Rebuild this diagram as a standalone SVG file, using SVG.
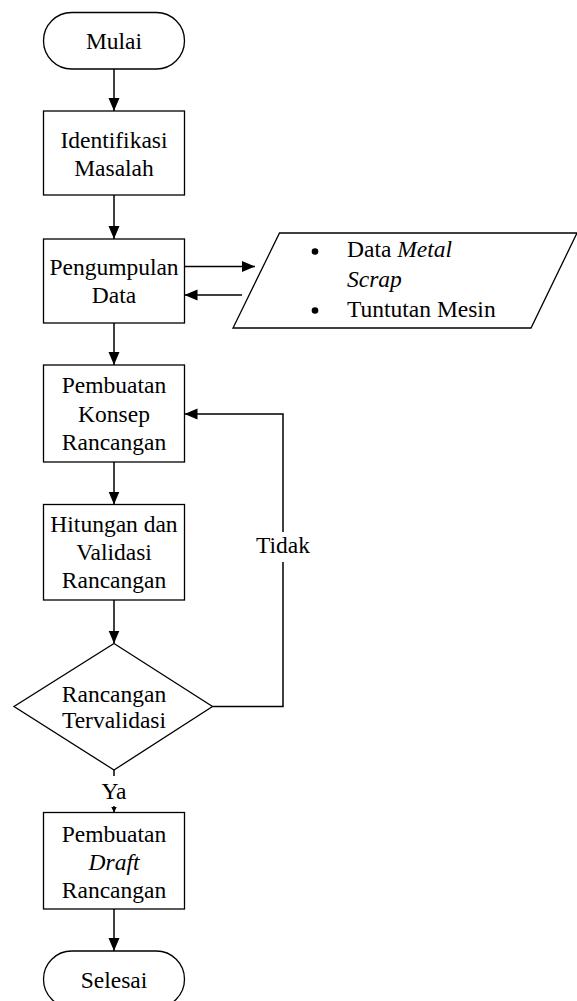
<svg xmlns="http://www.w3.org/2000/svg" width="577" height="1001" viewBox="0 0 577 1001" font-family="Liberation Serif, DejaVu Serif, serif" font-size="23.5">
<style>
text{fill:#000;text-anchor:middle}
.s{fill:#fff;stroke:#000;stroke-width:1.3}
.l{text-anchor:start}
.i{font-style:italic}
.c{fill:none;stroke:#000;stroke-width:1.5}
</style>
<defs>
<marker id="a" markerUnits="userSpaceOnUse" markerWidth="14" markerHeight="12" refX="13" refY="5.5" orient="auto">
<path d="M0,0 L13,5.5 L0,11 Z" fill="#000"/>
</marker>
<marker id="b" markerUnits="userSpaceOnUse" markerWidth="8" markerHeight="8" refX="6" refY="3" orient="auto">
<path d="M0,0 L6,3 L0,6 Z" fill="#000"/>
</marker>
</defs>
<g id="connectors">
<line class="c" x1="114" y1="69" x2="114" y2="111" marker-end="url(#a)"/>
<line class="c" x1="114" y1="195" x2="114" y2="239" marker-end="url(#a)"/>
<line class="c" x1="184" y1="266.5" x2="255" y2="266.5" marker-end="url(#a)"/>
<line class="c" x1="242" y1="295" x2="184.5" y2="295" marker-end="url(#a)"/>
<line class="c" x1="114" y1="323" x2="114" y2="365" marker-end="url(#a)"/>
<line class="c" x1="114" y1="462" x2="114" y2="504.5" marker-end="url(#a)"/>
<line class="c" x1="114" y1="600" x2="114" y2="643.5" marker-end="url(#a)"/>
<polyline class="c" points="212.5,706.5 283,706.5 283,562"/>
<polyline class="c" points="283,532 283,414 184.5,414" marker-end="url(#a)"/>
<text x="283" y="553">Tidak</text>
<line class="c" x1="114" y1="770" x2="114" y2="776"/>
<text x="114" y="799">Ya</text>
<line class="c" x1="114" y1="806" x2="114" y2="812.5" marker-end="url(#b)"/>
<line class="c" x1="114" y1="909" x2="114" y2="951" marker-end="url(#a)"/>
</g>
<g id="mulai">
<rect class="s" x="43.5" y="12.5" width="141" height="56.5" rx="28.25"/>
<text x="114" y="48.5">Mulai</text>
</g>
<g id="identifikasi">
<rect class="s" x="43.5" y="111" width="141" height="84"/>
<text x="114" y="148.3">Identifikasi</text>
<text x="114" y="175.7">Masalah</text>
</g>
<g id="pengumpulan">
<rect class="s" x="43.5" y="239" width="141" height="84"/>
<text x="114" y="275">Pengumpulan</text>
<text x="114" y="303">Data</text>
</g>
<g id="data">
<polygon class="s" points="279.5,233 577,233 531,328 233,328"/>
<circle cx="315" cy="251.5" r="3.3" fill="#000"/>
<circle cx="315" cy="310.5" r="3.3" fill="#000"/>
<text class="l" x="347" y="257">Data <tspan class="i">Metal</tspan></text>
<text class="l i" x="347" y="286.7">Scrap</text>
<text class="l" x="347" y="316.7">Tuntutan Mesin</text>
</g>
<g id="konsep">
<rect class="s" x="43.5" y="365" width="141" height="97"/>
<text x="114" y="393.3">Pembuatan</text>
<text x="114" y="421.7">Konsep</text>
<text x="114" y="450">Rancangan</text>
</g>
<g id="hitungan">
<rect class="s" x="43.5" y="504.5" width="141" height="95.5"/>
<text x="114" y="531.7">Hitungan dan</text>
<text x="114" y="560">Validasi</text>
<text x="114" y="588.3">Rancangan</text>
</g>
<g id="validasi">
<polygon class="s" points="114,643.5 212.5,706.5 114,770 14,706.5"/>
<text x="114" y="701.7">Rancangan</text>
<text x="114" y="728.3">Tervalidasi</text>
</g>
<g id="draft">
<rect class="s" x="43.5" y="812.5" width="141" height="96.5"/>
<text x="114" y="841.7">Pembuatan</text>
<text class="i" x="114" y="870">Draft</text>
<text x="114" y="898.3">Rancangan</text>
</g>
<g id="selesai">
<rect class="s" x="43.5" y="951" width="141" height="56.5" rx="28.25"/>
<text x="114" y="988">Selesai</text>
</g>
</svg>
